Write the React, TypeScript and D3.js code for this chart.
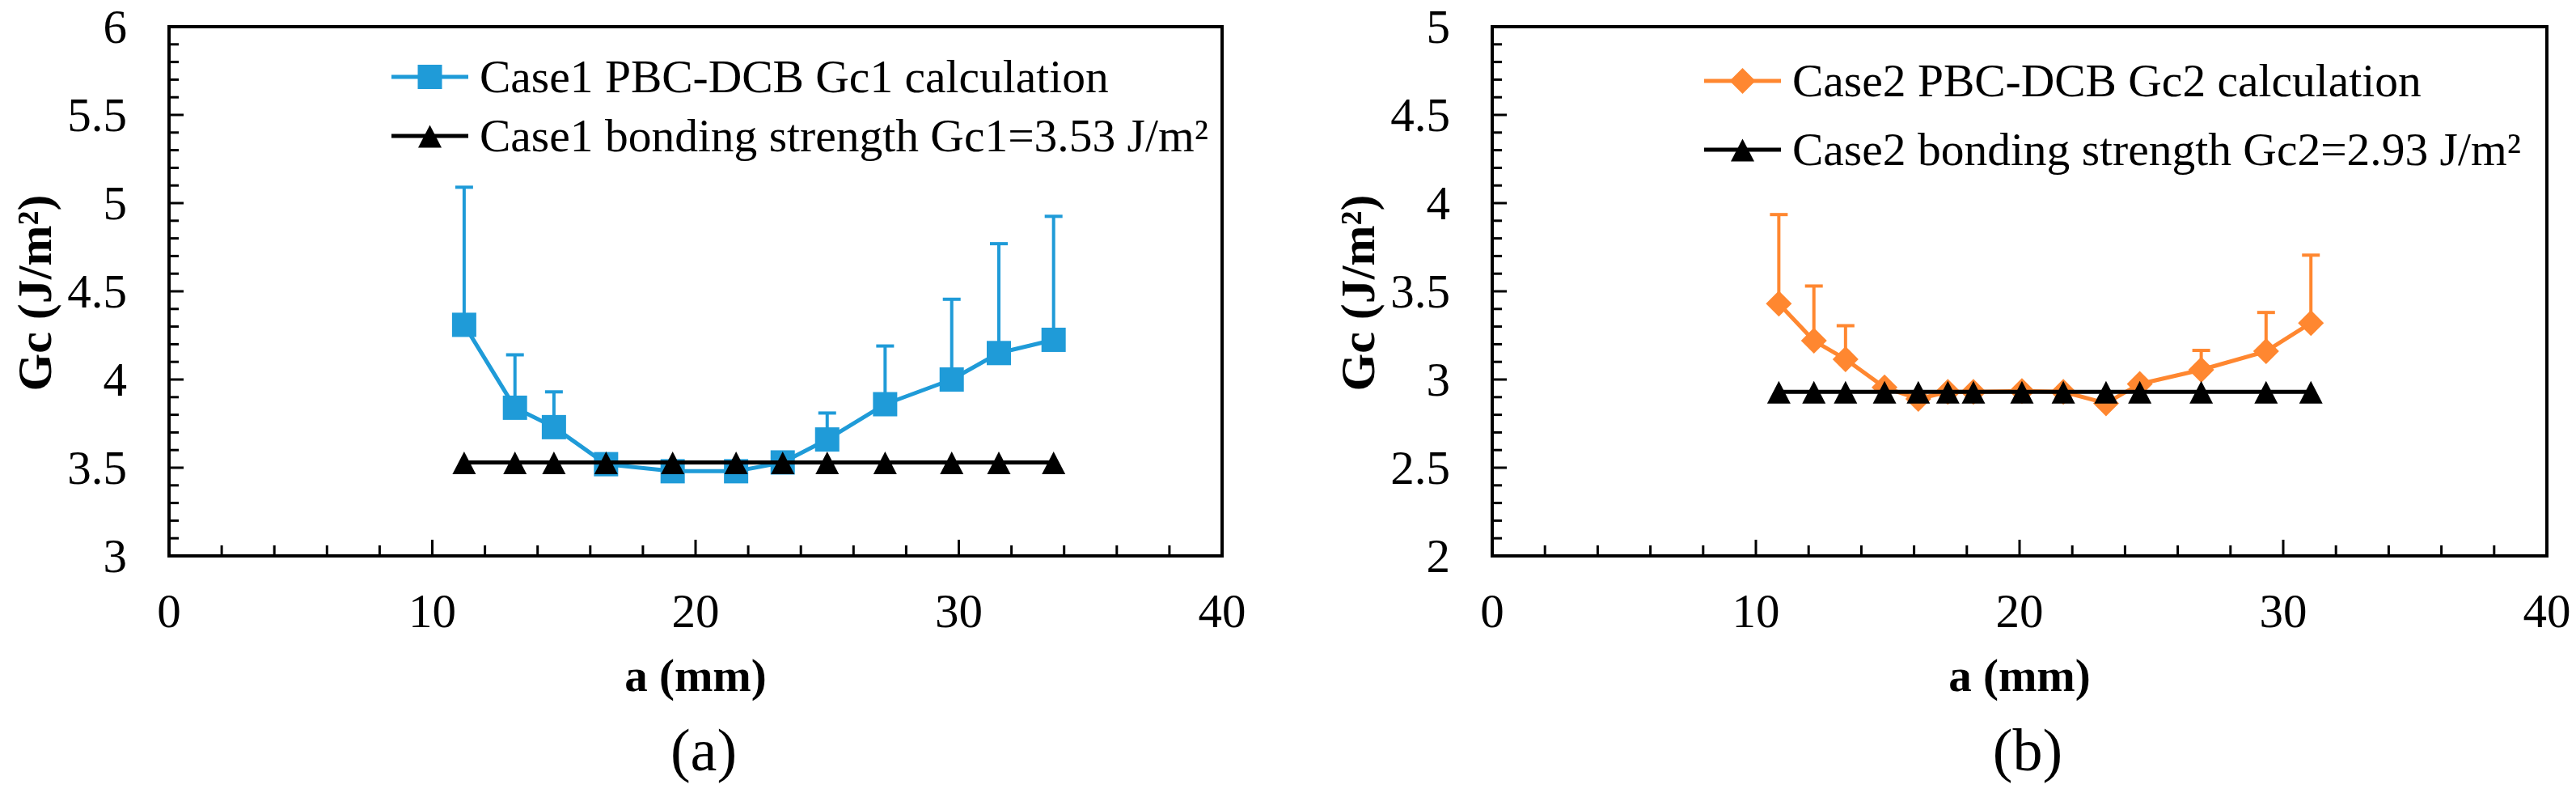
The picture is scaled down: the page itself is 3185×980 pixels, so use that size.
import React from "react";
import * as d3 from "d3";

// ---------- data ----------
const case1A = [11.21, 13.14, 14.62, 16.6, 19.13, 21.54, 23.31, 25.0, 27.2, 29.73, 31.52, 33.6];
const case1Gc = [4.31, 3.84, 3.73, 3.52, 3.48, 3.48, 3.53, 3.66, 3.86, 4.0, 4.15, 4.225];
const case1Err = [0.78, 0.3, 0.2, 0.02, 0.02, 0.02, 0.02, 0.15, 0.33, 0.455, 0.62, 0.7];
const case1Bond = 3.53;

const case2A = [10.87, 12.2, 13.4, 14.88, 16.16, 17.28, 18.25, 20.09, 21.66, 23.28, 24.56, 26.89, 29.35, 31.05];
const case2Gc = [3.43, 3.22, 3.115, 2.955, 2.89, 2.93, 2.93, 2.935, 2.93, 2.865, 2.975, 3.055, 3.16, 3.32];
const case2Err = [0.505, 0.31, 0.19, 0.01, 0.01, 0.01, 0.01, 0.01, 0.01, 0.01, 0.01, 0.11, 0.22, 0.385];
const case2Bond = 2.93;

const xTicks = [0, 10, 20, 30, 40];
const yTicks1 = [3, 3.5, 4, 4.5, 5, 5.5, 6];
const yTicks2 = [2, 2.5, 3, 3.5, 4, 4.5, 5];

const legend1 = ["Case1 PBC-DCB Gc1 calculation", "Case1 bonding strength Gc1=3.53 J/m²"];
const legend2 = ["Case2 PBC-DCB Gc2 calculation", "Case2 bonding strength Gc2=2.93 J/m²"];
const captions = ["(a)", "(b)"];

const BLUE = "#1F9BD8";
const ORANGE = "#FF8730";
const serif = { fontFamily: "Liberation Serif" };

type PanelProps = {
  left: number; right: number; top: number; bottom: number;
  yDomain: [number, number];
  yTicks: number[];
  xs: number[]; ys: number[]; errs: number[]; bond: number;
  color: string; marker: "square" | "diamond";
  legend: string[]; legendX: number; legendY: [number, number];
  caption: string;
};

const squarePath = "M-15,-15L15,-15L15,15L-15,15Z";
const diamondPath = "M0,-16L16,0L0,16L-16,0Z";
const trianglePath = "M0,-13.5L14.5,14.5L-14.5,14.5Z";

function Panel(p: PanelProps) {
  const x = d3.scaleLinear().domain([0, 40]).range([p.left, p.right]);
  const y = d3.scaleLinear().domain(p.yDomain).range([p.bottom, p.top]);
  const minorX = d3.range(0, 40.001, 2);
  const minorY = d3.range(0, Math.round((p.yDomain[1] - p.yDomain[0]) * 10) + 1).map((i) => p.yDomain[0] + i / 10);
  const line = d3.line<number>().x((_, i) => x(p.xs[i])).y((v) => y(v));
  const mPath = p.marker === "square" ? squarePath : diamondPath;
  const cx = (p.left + p.right) / 2;
  const cy = (p.top + p.bottom) / 2;
  const lx1 = p.legendX;
  const lx2 = p.legendX + 95;
  const lmid = (lx1 + lx2) / 2;
  const tx = lx2 + 14;
  return (
    <g>
      {minorX.map((v, i) => {
        const major = Math.abs(v % 10) < 1e-6;
        return <line key={"xt" + i} x1={x(v)} x2={x(v)} y1={p.bottom} y2={p.bottom - (major ? 20 : 13)} stroke="#000" strokeWidth={3} />;
      })}
      {minorY.map((v, i) => {
        const major = Math.abs(Math.round(v * 10) % 5) < 1e-6;
        return <line key={"yt" + i} x1={p.left} x2={p.left + (major ? 18 : 12)} y1={y(v)} y2={y(v)} stroke="#000" strokeWidth={3} />;
      })}
      <rect x={p.left} y={p.top} width={p.right - p.left} height={p.bottom - p.top} fill="none" stroke="#000" strokeWidth={4} />
      {xTicks.map((v) => (
        <text key={"xl" + v} x={x(v)} y={p.bottom + 88} textAnchor="middle" style={serif} fontSize={59}>{v}</text>
      ))}
      {p.yTicks.map((v) => (
        <text key={"yl" + v} x={p.left - 52} y={y(v) + 20} textAnchor="end" style={serif} fontSize={59}>{v}</text>
      ))}
      <text x={cx} y={854} textAnchor="middle" style={serif} fontSize={57} fontWeight="bold">a (mm)</text>
      <text transform={`translate(${p.left - 146},${cy + 2}) rotate(-90)`} textAnchor="middle" style={serif} fontSize={60} fontWeight="bold">Gc (J/m²)</text>
      <text x={cx + 10} y={952} textAnchor="middle" style={serif} fontSize={74}>{p.caption}</text>
      {p.xs.map((xv, i) => (
        <g key={"e" + i}>
          <line x1={x(xv)} x2={x(xv)} y1={y(p.ys[i])} y2={y(p.ys[i] + p.errs[i])} stroke={p.color} strokeWidth={4} />
          <line x1={x(xv) - 11} x2={x(xv) + 11} y1={y(p.ys[i] + p.errs[i])} y2={y(p.ys[i] + p.errs[i])} stroke={p.color} strokeWidth={4} />
        </g>
      ))}
      <path d={line(p.ys) || ""} fill="none" stroke={p.color} strokeWidth={5} strokeLinejoin="round" />
      {p.xs.map((xv, i) => (
        <path key={"m" + i} d={mPath} transform={`translate(${x(xv)},${y(p.ys[i])})`} fill={p.color} />
      ))}
      <line x1={x(p.xs[0])} x2={x(p.xs[p.xs.length - 1])} y1={y(p.bond)} y2={y(p.bond)} stroke="#000" strokeWidth={5} />
      {p.xs.map((xv, i) => (
        <path key={"t" + i} d={trianglePath} transform={`translate(${x(xv)},${y(p.bond)})`} fill="#000" />
      ))}
      <line x1={lx1} x2={lx2} y1={p.legendY[0]} y2={p.legendY[0]} stroke={p.color} strokeWidth={5} />
      <path d={mPath} transform={`translate(${lmid},${p.legendY[0]})`} fill={p.color} />
      <text x={tx} y={p.legendY[0] + 19} style={serif} fontSize={57.5}>{p.legend[0]}</text>
      <line x1={lx1} x2={lx2} y1={p.legendY[1]} y2={p.legendY[1]} stroke="#000" strokeWidth={5} />
      <path d={trianglePath} transform={`translate(${lmid},${p.legendY[1]})`} fill="#000" />
      <text x={tx} y={p.legendY[1] + 19} style={serif} fontSize={57.5}>{p.legend[1]}</text>
    </g>
  );
}

export default function App() {
  return (
    <svg width={3185} height={980} style={{ position: "absolute", left: 0, top: 0, background: "#fff" }}>
      <rect x={0} y={0} width={3185} height={980} fill="#fff" />
      <Panel left={209} right={1511} top={33} bottom={687} yDomain={[3, 6]} yTicks={yTicks1}
        xs={case1A} ys={case1Gc} errs={case1Err} bond={case1Bond} color={BLUE} marker="square"
        legend={legend1} legendX={484} legendY={[95, 168]} caption={captions[0]} />
      <Panel left={1845} right={3149} top={33} bottom={687} yDomain={[2, 5]} yTicks={yTicks2}
        xs={case2A} ys={case2Gc} errs={case2Err} bond={case2Bond} color={ORANGE} marker="diamond"
        legend={legend2} legendX={2107} legendY={[100, 185]} caption={captions[1]} />
    </svg>
  );
}
